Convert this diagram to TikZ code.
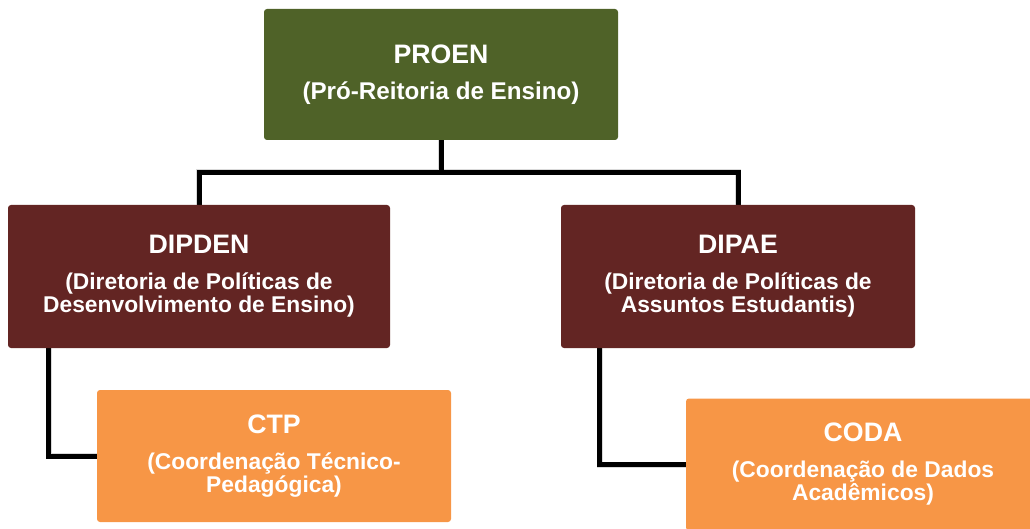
\documentclass[tikz,border=0pt]{standalone}
\usepackage{fontspec}
\setmainfont{Liberation Sans}
\usetikzlibrary{calc,backgrounds}
\definecolor{proengreen}{HTML}{4F6228}
\definecolor{dirred}{HTML}{632523}
\definecolor{coordorange}{HTML}{F79646}
\newcommand{\ttl}[1]{{\fontsize{26.7}{30}\selectfont #1}\\[13pt]}
\begin{document}
\begin{tikzpicture}[x=1pt,y=-1pt,
  box/.style={rounded corners=3pt, text=white, font=\bfseries\fontsize{22.8}{23}\selectfont,
    align=center, inner sep=0pt, minimum width=354pt, minimum height=132pt},
  lvlA/.style={box, fill=proengreen, minimum height=131pt},
  lvlB/.style={box, fill=dirred, minimum height=143pt},
  lvlC/.style={box, fill=coordorange},
  link/.style={line width=5pt, black},
  linkshadow/.style={line width=6pt, black, opacity=0.15, shift={(2pt,-3pt)}}]
\useasboundingbox (0,0) rectangle (1030,529);
\clip (0,0) rectangle (1030,529);
% boxes
\node[lvlA] (proen) at (441,74.5) {\ttl{PROEN}{\fontsize{24.2}{26}\selectfont (Pró-Reitoria de Ensino)}};
\node[lvlB, minimum width=382pt] (dipden) at (199,276.5) {\ttl{DIPDEN}(Diretoria de Políticas de\\Desenvolvimento de Ensino)};
\node[lvlB] (dipae) at (738,276.5) {\ttl{DIPAE}(Diretoria de Políticas de\\Assuntos Estudantis)};
\node[lvlC] (ctp) at (274,456) {\ttl{CTP}(Coordenação Técnico-\\Pedagógica)};
\node[lvlC] (coda) at (863,464.5) {\ttl{CODA}(Coordenação de Dados\\Acadêmicos)};
% connector junctions
\coordinate (jn) at ($(proen.south)+(0,32)$);
\coordinate (dl) at ($(dipden.south west)+(41,0)$);
\coordinate (al) at ($(dipae.south west)+(39,0)$);
\begin{scope}[on background layer]
  \foreach \st in {linkshadow,link}{
    \draw[\st] (proen.south) -- (jn) -| (dipden.north);
    \draw[\st] (jn) -| (dipae.north);
    \draw[\st] (dl) |- (ctp.west);
    \draw[\st] (al) |- (coda.west);
  }
\end{scope}
\end{tikzpicture}
\end{document}
